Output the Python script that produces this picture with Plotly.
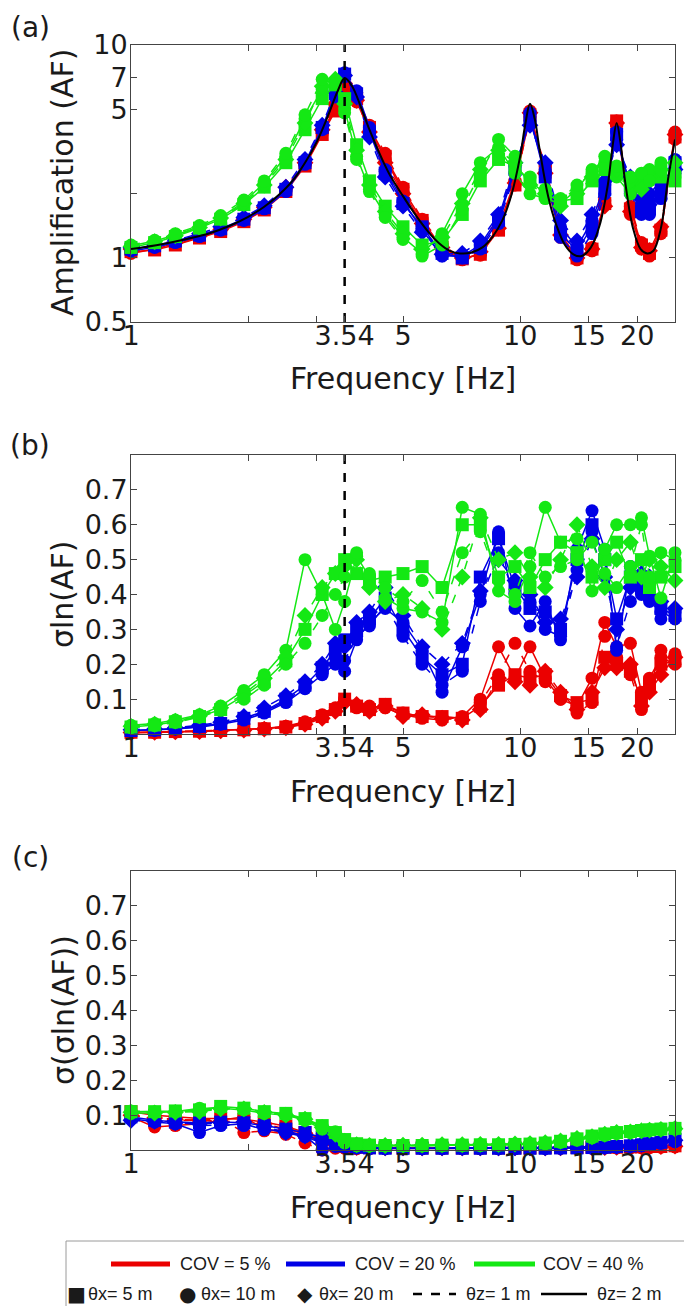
import math
import plotly.graph_objects as go

W, H = 684, 1306

# ---------------- data ----------------
FREQ = [1.0, 1.15, 1.3, 1.5, 1.7, 1.95, 2.2, 2.5, 2.8, 3.1, 3.35, 3.54, 3.8, 4.1, 4.5, 5.0, 5.6,
        6.3, 7.1, 7.9, 8.8, 9.7, 10.6, 11.6, 12.7, 14.0, 15.3, 16.5, 17.7, 19.2, 20.5, 21.5, 23.0, 25.0]

FREQ_DET = [1.0, 1.2, 1.4, 1.6, 1.8, 2.0, 2.2, 2.4, 2.6, 2.8, 3.0, 3.2, 3.4, 3.54, 3.7, 3.9, 4.1, 4.3,
            4.6, 5.0, 5.4, 5.8, 6.2, 6.6, 7.0, 7.5, 8.0, 8.5, 9.0, 9.5, 10.0, 10.3, 10.6, 10.9, 11.2,
            11.8, 12.4, 13.0, 13.7, 14.4, 15.2, 16.0, 16.8, 17.3, 17.7, 18.1, 18.6, 19.5, 20.4, 21.2,
            22.0, 23.0, 24.0, 25.0]
AF_DET = [1.10, 1.16, 1.23, 1.31, 1.42, 1.56, 1.74, 1.98, 2.3, 2.8, 3.5, 4.6, 6.1, 7.0, 6.4, 5.1, 4.0,
          3.25, 2.5, 1.95, 1.58, 1.33, 1.17, 1.08, 1.05, 1.06, 1.12, 1.26, 1.5, 1.98, 3.0, 4.2, 5.3,
          4.5, 3.3, 1.95, 1.42, 1.16, 1.04, 1.02, 1.12, 1.42, 2.2, 3.4, 4.3, 3.5, 2.3, 1.38, 1.1, 1.05,
          1.08, 1.38, 2.35, 3.6]

F0 = 3.54  # fundamental frequency marked by the dashed line

# (a) amplification, COV = 5 %
A_RED_1 = [1.07, 1.09, 1.15, 1.24, 1.33, 1.48, 1.68, 2.05, 2.7, 3.8, 4.9, 6.2, 5.6, 4.1, 3.0, 2.1, 1.5, 1.12, 0.99, 1.04, 1.35, 2.2, 4.7, 2.6, 1.3, 1.0, 1.1, 1.8, 4.4, 1.7, 1.15, 1.05, 1.35, 3.7]
A_RED_2 = [1.05, 1.1, 1.17, 1.26, 1.35, 1.5, 1.7, 2.1, 2.75, 3.9, 5.1, 6.5, 5.4, 4.0, 2.9, 2.05, 1.45, 1.1, 0.98, 1.05, 1.4, 2.3, 4.9, 2.4, 1.25, 0.98, 1.12, 1.85, 4.2, 1.6, 1.1, 1.02, 1.3, 3.9]
A_RED_3 = [1.1, 1.12, 1.18, 1.27, 1.36, 1.52, 1.73, 2.15, 2.8, 4.0, 5.3, 6.6, 5.5, 3.9, 2.8, 2.0, 1.45, 1.12, 1.0, 1.07, 1.38, 2.25, 4.8, 2.5, 1.28, 1.0, 1.1, 1.75, 4.3, 1.65, 1.12, 1.08, 1.4, 3.8]
A_RED_4 = [1.06, 1.11, 1.16, 1.25, 1.34, 1.49, 1.71, 2.1, 2.72, 3.85, 5.0, 6.4, 5.7, 4.2, 3.1, 2.15, 1.52, 1.15, 1.0, 1.03, 1.36, 2.2, 4.6, 2.7, 1.35, 1.03, 1.08, 1.8, 4.4, 1.75, 1.18, 1.1, 1.33, 3.6]
# (a) amplification, COV = 20 %
A_BLUE_1 = [1.1, 1.14, 1.2, 1.28, 1.37, 1.52, 1.72, 2.1, 2.8, 4.1, 5.9, 7.3, 5.9, 3.9, 2.5, 1.8, 1.4, 1.05, 1.0, 1.12, 1.5, 2.6, 4.6, 2.4, 1.3, 1.08, 1.4, 2.1, 3.8, 2.1, 1.65, 1.7, 2.0, 2.8]
A_BLUE_2 = [1.08, 1.12, 1.18, 1.26, 1.35, 1.5, 1.7, 2.05, 2.75, 4.0, 5.7, 7.1, 6.1, 4.1, 2.6, 1.85, 1.35, 1.02, 1.02, 1.15, 1.55, 2.7, 4.4, 2.6, 1.4, 1.12, 1.5, 2.2, 3.6, 2.2, 1.8, 1.85, 2.2, 2.5]
A_BLUE_3 = [1.12, 1.15, 1.21, 1.3, 1.4, 1.55, 1.76, 2.15, 2.9, 4.2, 6.0, 7.2, 5.7, 3.7, 2.4, 1.75, 1.32, 1.04, 1.05, 1.2, 1.6, 2.8, 4.2, 2.8, 1.5, 1.2, 1.6, 2.3, 3.4, 2.4, 1.9, 2.0, 2.3, 2.6]
A_BLUE_4 = [1.09, 1.13, 1.19, 1.27, 1.36, 1.51, 1.71, 2.08, 2.78, 4.05, 5.8, 7.4, 6.0, 4.0, 2.55, 1.82, 1.38, 1.03, 1.0, 1.1, 1.45, 2.5, 4.8, 2.5, 1.25, 1.02, 1.3, 2.0, 3.9, 2.0, 1.6, 1.6, 1.9, 2.9]
# (a) amplification, COV = 40 %
A_GREEN_1 = [1.12, 1.18, 1.26, 1.38, 1.52, 1.78, 2.15, 2.8, 4.0, 5.6, 6.5, 5.6, 3.4, 2.3, 1.75, 1.4, 1.15, 1.2, 1.6, 2.3, 2.9, 2.7, 2.3, 2.0, 1.85, 1.9, 2.3, 2.6, 2.5, 2.2, 2.3, 2.5, 2.4, 2.3]
A_GREEN_2 = [1.14, 1.2, 1.28, 1.4, 1.55, 1.83, 2.25, 3.0, 4.5, 6.2, 6.8, 5.0, 3.0, 2.1, 1.6, 1.25, 1.05, 1.3, 2.0, 2.8, 3.3, 2.5, 2.0, 1.9, 1.8, 2.1, 2.6, 2.8, 2.4, 2.0, 2.2, 2.6, 2.7, 2.5]
A_GREEN_3 = [1.13, 1.19, 1.27, 1.39, 1.54, 1.8, 2.2, 2.9, 4.3, 6.4, 6.9, 5.3, 3.2, 2.2, 1.65, 1.3, 1.1, 1.25, 1.8, 2.6, 3.2, 2.8, 2.2, 2.0, 1.75, 2.0, 2.4, 2.7, 2.6, 2.3, 2.1, 2.4, 2.6, 2.8]
A_GREEN_4 = [1.15, 1.21, 1.3, 1.42, 1.58, 1.87, 2.3, 3.1, 4.7, 6.9, 6.6, 4.8, 2.9, 2.05, 1.55, 1.22, 1.02, 1.15, 1.7, 2.5, 3.6, 3.0, 2.4, 2.1, 1.9, 2.2, 2.5, 3.0, 2.7, 2.4, 2.5, 2.3, 2.8, 2.4]

# (b) sigma ln(AF)
B_RED_1 = [0.005, 0.005, 0.007, 0.008, 0.01, 0.012, 0.015, 0.02, 0.03, 0.05, 0.07, 0.1, 0.08, 0.07, 0.085, 0.06, 0.05, 0.05, 0.045, 0.08, 0.14, 0.17, 0.16, 0.17, 0.11, 0.09, 0.1, 0.22, 0.2, 0.18, 0.1, 0.14, 0.2, 0.21]
B_RED_2 = [0.003, 0.004, 0.006, 0.008, 0.01, 0.012, 0.016, 0.022, 0.035, 0.055, 0.075, 0.095, 0.075, 0.08, 0.075, 0.055, 0.045, 0.04, 0.05, 0.1, 0.25, 0.16, 0.25, 0.16, 0.1, 0.08, 0.16, 0.32, 0.25, 0.26, 0.12, 0.16, 0.22, 0.2]
B_RED_3 = [0.004, 0.005, 0.006, 0.007, 0.009, 0.011, 0.014, 0.018, 0.028, 0.045, 0.065, 0.09, 0.085, 0.065, 0.08, 0.05, 0.055, 0.045, 0.04, 0.07, 0.16, 0.15, 0.14, 0.18, 0.12, 0.07, 0.12, 0.19, 0.19, 0.2, 0.08, 0.12, 0.17, 0.22]
B_RED_4 = [0.005, 0.006, 0.007, 0.009, 0.011, 0.013, 0.016, 0.021, 0.032, 0.05, 0.07, 0.1, 0.08, 0.075, 0.08, 0.06, 0.05, 0.048, 0.045, 0.09, 0.17, 0.26, 0.18, 0.15, 0.1, 0.06, 0.09, 0.28, 0.22, 0.17, 0.07, 0.13, 0.24, 0.23]
B_BLUE_1 = [0.01, 0.012, 0.016, 0.022, 0.03, 0.045, 0.065, 0.1, 0.14, 0.19, 0.24, 0.27, 0.3, 0.33, 0.39, 0.3, 0.22, 0.17, 0.2, 0.45, 0.56, 0.42, 0.36, 0.35, 0.3, 0.5, 0.6, 0.5, 0.33, 0.45, 0.42, 0.4, 0.36, 0.34]
B_BLUE_2 = [0.01, 0.011, 0.014, 0.02, 0.028, 0.04, 0.06, 0.09, 0.13, 0.17, 0.2, 0.18, 0.27, 0.32, 0.36, 0.32, 0.24, 0.12, 0.25, 0.4, 0.58, 0.36, 0.31, 0.38, 0.27, 0.53, 0.64, 0.53, 0.24, 0.48, 0.44, 0.38, 0.35, 0.33]
B_BLUE_3 = [0.012, 0.014, 0.018, 0.025, 0.034, 0.05, 0.075, 0.11, 0.15, 0.2, 0.26, 0.25, 0.32, 0.35, 0.42, 0.34, 0.25, 0.2, 0.26, 0.41, 0.5, 0.44, 0.4, 0.32, 0.33, 0.45, 0.56, 0.45, 0.3, 0.42, 0.46, 0.45, 0.38, 0.36]
B_BLUE_4 = [0.009, 0.011, 0.015, 0.021, 0.029, 0.043, 0.062, 0.095, 0.135, 0.18, 0.22, 0.21, 0.28, 0.31, 0.37, 0.28, 0.2, 0.14, 0.18, 0.38, 0.52, 0.4, 0.38, 0.3, 0.28, 0.47, 0.58, 0.5, 0.25, 0.38, 0.4, 0.42, 0.33, 0.35]
B_GREEN_1 = [0.02, 0.026, 0.035, 0.05, 0.07, 0.11, 0.15, 0.21, 0.3, 0.4, 0.46, 0.5, 0.46, 0.44, 0.45, 0.46, 0.48, 0.42, 0.6, 0.6, 0.45, 0.48, 0.42, 0.5, 0.55, 0.52, 0.45, 0.5, 0.55, 0.45, 0.5, 0.42, 0.45, 0.48]
B_GREEN_2 = [0.025, 0.03, 0.04, 0.055, 0.08, 0.125, 0.17, 0.24, 0.5, 0.4, 0.3, 0.38, 0.51, 0.45, 0.39, 0.36, 0.35, 0.32, 0.65, 0.63, 0.41, 0.38, 0.48, 0.65, 0.55, 0.56, 0.41, 0.53, 0.6, 0.6, 0.62, 0.51, 0.39, 0.52]
B_GREEN_3 = [0.022, 0.028, 0.037, 0.052, 0.075, 0.115, 0.16, 0.22, 0.34, 0.42, 0.46, 0.48, 0.5, 0.42, 0.38, 0.4, 0.36, 0.3, 0.45, 0.62, 0.5, 0.52, 0.45, 0.42, 0.5, 0.6, 0.48, 0.42, 0.5, 0.55, 0.45, 0.5, 0.48, 0.44]
B_GREEN_4 = [0.018, 0.024, 0.033, 0.048, 0.068, 0.1, 0.14, 0.2, 0.26, 0.34, 0.4, 0.45, 0.52, 0.46, 0.42, 0.38, 0.44, 0.35, 0.52, 0.58, 0.44, 0.4, 0.52, 0.45, 0.48, 0.5, 0.55, 0.46, 0.42, 0.48, 0.6, 0.45, 0.52, 0.5]

# (c) sigma(sigma ln(AF))
C_RED_1 = [0.11, 0.1, 0.095, 0.09, 0.09, 0.088, 0.08, 0.068, 0.05, 0.03, 0.015, 0.01, 0.008, 0.007, 0.007, 0.006, 0.006, 0.006, 0.006, 0.006, 0.006, 0.006, 0.006, 0.007, 0.007, 0.007, 0.008, 0.008, 0.008, 0.009, 0.009, 0.01, 0.01, 0.012]
C_RED_2 = [0.095, 0.066, 0.07, 0.075, 0.085, 0.095, 0.06, 0.05, 0.045, 0.02, 0.008, 0.006, 0.005, 0.005, 0.005, 0.005, 0.005, 0.005, 0.005, 0.005, 0.005, 0.005, 0.005, 0.005, 0.006, 0.006, 0.006, 0.007, 0.007, 0.008, 0.008, 0.008, 0.009, 0.01]
C_RED_3 = [0.1, 0.092, 0.088, 0.085, 0.082, 0.08, 0.075, 0.06, 0.048, 0.035, 0.02, 0.01, 0.007, 0.006, 0.006, 0.006, 0.006, 0.006, 0.006, 0.006, 0.006, 0.006, 0.006, 0.006, 0.006, 0.007, 0.007, 0.007, 0.008, 0.008, 0.009, 0.009, 0.01, 0.011]
C_RED_4 = [0.105, 0.08, 0.083, 0.087, 0.09, 0.05, 0.055, 0.045, 0.02, 0.0, 0.005, 0.005, 0.004, 0.004, 0.004, 0.004, 0.004, 0.004, 0.004, 0.004, 0.004, 0.004, 0.004, 0.005, 0.005, 0.005, 0.005, 0.006, 0.006, 0.006, 0.007, 0.007, 0.008, 0.009]
C_BLUE_1 = [0.095, 0.085, 0.08, 0.078, 0.08, 0.078, 0.07, 0.06, 0.05, 0.035, 0.02, 0.012, 0.008, 0.006, 0.005, 0.005, 0.005, 0.005, 0.005, 0.005, 0.005, 0.005, 0.005, 0.005, 0.006, 0.006, 0.007, 0.008, 0.01, 0.012, 0.015, 0.018, 0.022, 0.03]
C_BLUE_2 = [0.09, 0.08, 0.075, 0.05, 0.07, 0.075, 0.058, 0.055, 0.04, 0.0, 0.01, 0.008, 0.006, 0.004, 0.004, 0.004, 0.004, 0.004, 0.004, 0.004, 0.004, 0.004, 0.004, 0.005, 0.005, 0.006, 0.006, 0.007, 0.008, 0.01, 0.012, 0.015, 0.02, 0.025]
C_BLUE_3 = [0.085, 0.082, 0.078, 0.075, 0.078, 0.08, 0.068, 0.05, 0.04, 0.03, 0.022, 0.015, 0.01, 0.007, 0.006, 0.006, 0.006, 0.006, 0.006, 0.006, 0.006, 0.006, 0.006, 0.006, 0.007, 0.007, 0.008, 0.009, 0.011, 0.013, 0.016, 0.02, 0.024, 0.028]
C_BLUE_4 = [0.092, 0.088, 0.082, 0.07, 0.072, 0.07, 0.062, 0.05, 0.038, 0.02, 0.012, 0.01, 0.007, 0.005, 0.005, 0.005, 0.005, 0.005, 0.005, 0.005, 0.005, 0.005, 0.005, 0.005, 0.006, 0.006, 0.007, 0.008, 0.009, 0.011, 0.013, 0.016, 0.019, 0.024]
C_GREEN_1 = [0.11, 0.11, 0.112, 0.115, 0.125, 0.12, 0.11, 0.105, 0.09, 0.07, 0.05, 0.03, 0.018, 0.014, 0.013, 0.013, 0.013, 0.014, 0.014, 0.015, 0.015, 0.016, 0.017, 0.02, 0.025, 0.032, 0.04, 0.046, 0.05, 0.053, 0.056, 0.058, 0.06, 0.062]
C_GREEN_2 = [0.105, 0.108, 0.11, 0.12, 0.12, 0.115, 0.105, 0.1, 0.085, 0.06, 0.05, 0.02, 0.012, 0.012, 0.012, 0.012, 0.012, 0.012, 0.013, 0.013, 0.014, 0.015, 0.016, 0.018, 0.022, 0.028, 0.035, 0.042, 0.047, 0.05, 0.054, 0.056, 0.058, 0.06]
C_GREEN_3 = [0.108, 0.106, 0.108, 0.11, 0.118, 0.118, 0.108, 0.1, 0.088, 0.065, 0.045, 0.025, 0.015, 0.013, 0.013, 0.014, 0.014, 0.015, 0.015, 0.016, 0.016, 0.017, 0.018, 0.021, 0.026, 0.033, 0.038, 0.045, 0.05, 0.052, 0.055, 0.057, 0.059, 0.061]
C_GREEN_4 = [0.112, 0.109, 0.11, 0.113, 0.12, 0.118, 0.106, 0.103, 0.087, 0.068, 0.052, 0.028, 0.016, 0.013, 0.012, 0.012, 0.012, 0.013, 0.013, 0.014, 0.015, 0.016, 0.017, 0.019, 0.024, 0.03, 0.037, 0.044, 0.049, 0.052, 0.055, 0.058, 0.06, 0.063]

X_TICKVALS = [1, 2, 3, 3.54, 5, 10, 15, 20]
X_TICKTEXT = ["1", "", "", "3.54", "5", "10", "15", "20"]
YA_TICKVALS = [0.5, 1, 2, 5, 7, 10]
YA_TICKTEXT = ["0.5", "1", "", "5", "7", "10"]
YB_TICKVALS = [0.1, 0.2, 0.3, 0.4, 0.5, 0.6, 0.7]
YB_TICKTEXT = ["0.1", "0.2", "0.3", "0.4", "0.5", "0.6", "0.7"]

# ---------------- styling ----------------
RED = "rgb(235,0,0)"
BLUE = "rgb(0,0,230)"
GREEN = "rgb(20,232,20)"
STYLES = [("square", "solid"), ("circle", "solid"), ("diamond", "dash"), ("circle", "dash")]
FONT = "DejaVu Sans"
TXT = "#1a1a1a"
AX = "#444444"


def fx(px):
    return px / W


def fy(py):
    return 1 - py / H


fig = go.Figure()

panels = [
    ("x", "y", [(RED, [A_RED_1, A_RED_2, A_RED_3, A_RED_4]),
                (BLUE, [A_BLUE_1, A_BLUE_2, A_BLUE_3, A_BLUE_4]),
                (GREEN, [A_GREEN_1, A_GREEN_2, A_GREEN_3, A_GREEN_4])]),
    ("x2", "y2", [(RED, [B_RED_1, B_RED_2, B_RED_3, B_RED_4]),
                  (BLUE, [B_BLUE_1, B_BLUE_2, B_BLUE_3, B_BLUE_4]),
                  (GREEN, [B_GREEN_1, B_GREEN_2, B_GREEN_3, B_GREEN_4])]),
    ("x3", "y3", [(RED, [C_RED_1, C_RED_2, C_RED_3, C_RED_4]),
                  (BLUE, [C_BLUE_1, C_BLUE_2, C_BLUE_3, C_BLUE_4]),
                  (GREEN, [C_GREEN_1, C_GREEN_2, C_GREEN_3, C_GREEN_4])]),
]

for xa, ya, groups in panels:
    for color, series in groups:
        for vals, (sym, dash) in zip(series, STYLES):
            fig.add_trace(go.Scatter(
                x=FREQ, y=vals, xaxis=xa, yaxis=ya, mode="lines+markers",
                line=dict(color=color, width=1.5, dash=dash),
                marker=dict(symbol=sym, size=13, color=color, line=dict(width=0)),
                cliponaxis=False, showlegend=False, hoverinfo="skip"))

# deterministic transfer function
fig.add_trace(go.Scatter(x=FREQ_DET, y=AF_DET, xaxis="x", yaxis="y", mode="lines",
                         line=dict(color="black", width=2, shape="spline"),
                         showlegend=False, hoverinfo="skip"))
# fundamental frequency marker lines
fig.add_trace(go.Scatter(x=[F0, F0], y=[0.5, 10], xaxis="x", yaxis="y", mode="lines",
                         line=dict(color="black", width=2.5, dash="dash"), showlegend=False))
fig.add_trace(go.Scatter(x=[F0, F0], y=[0, 0.8], xaxis="x2", yaxis="y2", mode="lines",
                         line=dict(color="black", width=2.5, dash="dash"), showlegend=False))

xcommon = dict(type="log", range=[0, math.log10(25)], tickvals=X_TICKVALS, ticktext=X_TICKTEXT,
               ticks="inside", ticklen=6, tickwidth=1, tickcolor=AX, showline=True, mirror="ticks",
               linecolor=AX, linewidth=1, showgrid=False, zeroline=False, ticklabelstandoff=-10,
               automargin=False,
               tickfont=dict(family=FONT, size=27, color=TXT), domain=[fx(131), fx(675)])
ycommon = dict(ticks="inside", ticklen=6, tickwidth=1, tickcolor=AX, showline=True, mirror="ticks",
               linecolor=AX, linewidth=1, showgrid=False, zeroline=False, ticklabelstandoff=-3,
               automargin=False,
               tickfont=dict(family=FONT, size=27, color=TXT))

fig.update_layout(
    width=W, height=H, margin=dict(l=0, r=0, t=0, b=0, autoexpand=False),
    paper_bgcolor="white", plot_bgcolor="white", showlegend=False,
    xaxis=dict(xcommon, anchor="y"),
    xaxis2=dict(xcommon, anchor="y2"),
    xaxis3=dict(xcommon, anchor="y3"),
    yaxis=dict(ycommon, type="log", range=[math.log10(0.5), 1], tickvals=YA_TICKVALS,
               ticktext=YA_TICKTEXT, anchor="x", domain=[fy(322), fy(45)]),
    yaxis2=dict(ycommon, range=[0, 0.8], tickvals=YB_TICKVALS, ticktext=YB_TICKTEXT,
                anchor="x2", domain=[fy(734), fy(455)]),
    yaxis3=dict(ycommon, range=[0, 0.8], tickvals=YB_TICKVALS, ticktext=YB_TICKTEXT,
                anchor="x3", domain=[fy(1150), fy(871)]),
)

ann = []


def text(px, py, s, size, anchor="center", angle=0, family=FONT):
    ann.append(dict(x=fx(px), y=fy(py), xref="paper", yref="paper", text=s, showarrow=False,
                    xanchor=anchor, yanchor="middle", textangle=angle,
                    font=dict(family=family, size=size, color=TXT)))


# panel labels and axis titles
text(30, 28, "(a)", 28)
text(30, 445, "(b)", 28)
text(30, 857, "(c)", 28)
for py in (379, 791, 1207):
    text(403, py, "Frequency [Hz]", 30)
text(63, 183, "Amplification (AF)", 30, angle=-90)
text(63, 594, "σln(AF)", 30, angle=-90)
text(63, 1010, "σ(σln(AF))", 30, angle=-90)

# legend
LFONT = "Liberation Sans"
shapes = [dict(type="rect", xref="paper", yref="paper", x0=fx(66), x1=fx(700), y0=fy(1320), y1=fy(1241),
               line=dict(color="#9a9a9a", width=1), fillcolor="rgba(0,0,0,0)")]
row1 = 1264
for x0, x1, col, lab, tx in [(111, 170, RED, "COV = 5 %", 178), (286, 345, BLUE, "COV = 20 %", 353),
                             (474, 535, GREEN, "COV = 40 %", 541)]:
    shapes.append(dict(type="line", xref="paper", yref="paper", x0=fx(x0), x1=fx(x1), y0=fy(row1),
                       y1=fy(row1), line=dict(color=col, width=5)))
    text(tx, row1, lab, 18, anchor="left", family=LFONT)
row2 = 1294
text(76, row2, "■", 20)
text(86, row2, "θx= 5 m", 18, anchor="left", family=LFONT)
text(187, row2, "●", 20)
text(199, row2, "θx= 10 m", 18, anchor="left", family=LFONT)
text(305, row2, "◆", 20)
text(317, row2, "θx= 20 m", 18, anchor="left", family=LFONT)
shapes.append(dict(type="line", xref="paper", yref="paper", x0=fx(413), x1=fx(456), y0=fy(row2),
                   y1=fy(row2), line=dict(color="black", width=2.5, dash="dash")))
text(464, row2, "θz= 1 m", 18, anchor="left", family=LFONT)
shapes.append(dict(type="line", xref="paper", yref="paper", x0=fx(541), x1=fx(587), y0=fy(row2),
                   y1=fy(row2), line=dict(color="black", width=2.5)))
text(595, row2, "θz= 2 m", 18, anchor="left", family=LFONT)

fig.update_layout(annotations=ann, shapes=shapes)

fig.write_html("out.html", config={"displayModeBar": False},
               post_script="document.body.style.margin='0';document.body.style.padding='0';")
